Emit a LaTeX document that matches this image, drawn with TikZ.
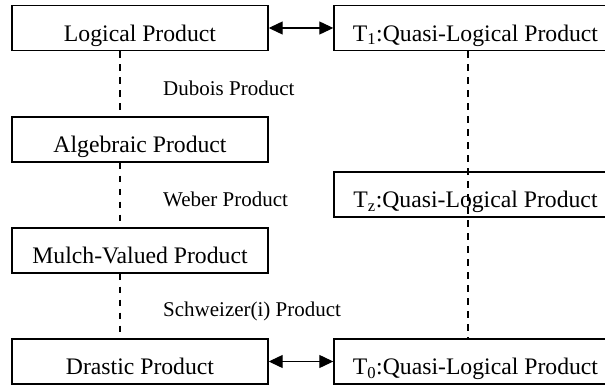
\documentclass[tikz,border=0pt]{standalone}
\usepackage{fontspec}
\setmainfont{Liberation Serif}
\usetikzlibrary{arrows.meta}

\tikzset{
	prodbox/.style={draw, line width=1.4pt, minimum width=256pt, minimum height=45pt, inner sep=0pt, text height=26.5pt, text depth=0pt, font=\fontsize{23.7}{28}\selectfont},
	quasibox/.style={prodbox, minimum width=283pt},
	prodlabel/.style={anchor=west, inner sep=0pt, font=\fontsize{21}{25}\selectfont},
	link/.style={line width=1.3pt, dash pattern=on 6.5pt off 6.5pt},
	equiv/.style={line width=1.2pt, {Triangle[length=14pt,width=13pt]}-{Triangle[length=14pt,width=13pt]}}
}

\begin{document}
\begin{tikzpicture}[x=1pt, y=-1pt]
		
		\useasboundingbox (0,0) rectangle (605,385);
		\clip (0,0) rectangle (605,385);
		
		\node[prodbox] (logical) at (140,28) {Logical Product};
		\node[prodbox] (algebraic) at (140,139.5) {Algebraic Product};
		\node[prodbox] (mulch) at (140,250.5) {Mulch-Valued Product};
		\node[prodbox] (drastic) at (140,361.5) {Drastic Product};
		
		\node[quasibox] (quasione) at (475.5,28) {T\textsubscript{1}:Quasi-Logical Product};
		\node[quasibox] (quasiz) at (475.5,194.5) {T\textsubscript{z}:Quasi-Logical Product};
		\node[quasibox] (quasizero) at (475.5,361.5) {T\textsubscript{0}:Quasi-Logical Product};
		
		\node[prodlabel] (dubois) at (163,88) {Dubois Product};
		\node[prodlabel] (weber) at (163,199) {Weber Product};
		\node[prodlabel] (schweizer) at (163,311) {Schweizer(i) Product};
		
		% x positions of the dashed links
		\coordinate (leftx) at (120,0);
		\coordinate (rightx) at (468,0);
		
		\draw[link] (logical.south -| leftx) -- (algebraic.north -| leftx);
		\draw[link] (algebraic.south -| leftx) -- (mulch.north -| leftx);
		\draw[link] (mulch.south -| leftx) -- (drastic.north -| leftx);
		\draw[link] (quasione.south -| rightx) -- (quasizero.north -| rightx);
		
		\draw[equiv] (logical.east) -- (quasione.west);
		\draw[equiv] (drastic.east) -- (quasizero.west);
		
	\end{tikzpicture}
\end{document}
